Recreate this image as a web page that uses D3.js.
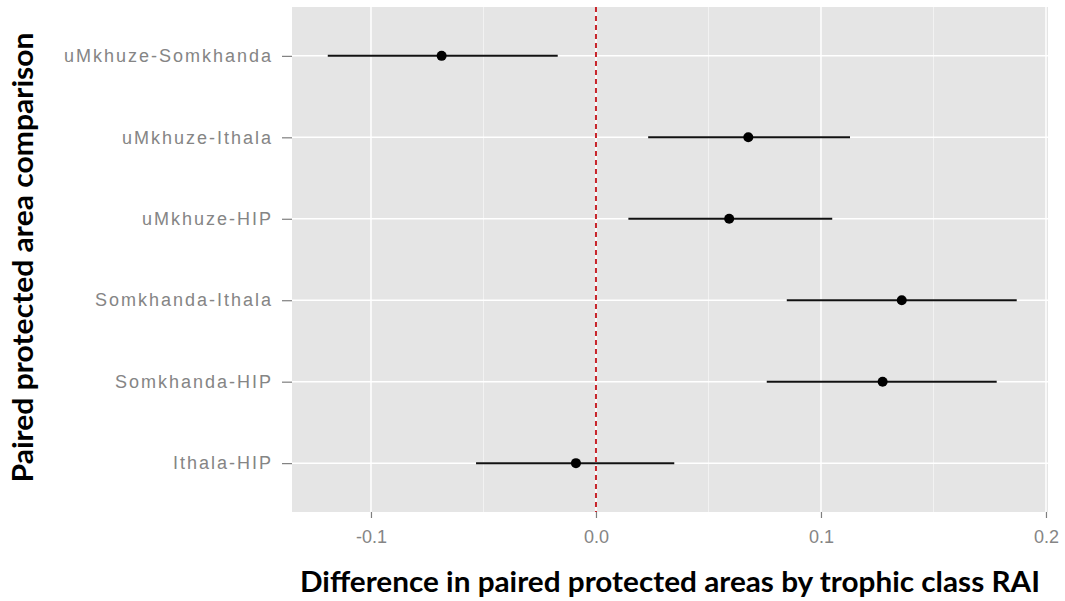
<!DOCTYPE html>
<html>
<head>
<meta charset="utf-8">
<script src="https://cdn.jsdelivr.net/npm/d3@7"></script>
<style>
  body { margin: 0; background: #fff; }
  svg { display: block; }
</style>
</head>
<body>
<div id="chart"></div>
<script>
// pairs, top to bottom
var pairs = ["uMkhuze-Somkhanda", "uMkhuze-Ithala", "uMkhuze-HIP",
             "Somkhanda-Ithala", "Somkhanda-HIP", "Ithala-HIP"]
var estimate = [-0.0686, 0.0677, 0.0592, 0.1359, 0.1274, -0.0089]
var lower    = [-0.1192, 0.0232, 0.0144, 0.0848, 0.0759, -0.0533]
var upper    = [-0.0170, 0.1129, 0.1050, 0.1870, 0.1781, 0.0348]
var xTicks = [-0.1, 0.0, 0.1, 0.2]
var xMinor = [-0.05, 0.05, 0.15]

var W = 1065, H = 601
var panel = {left: 292, right: 1048, top: 7, bottom: 512}

var svg = d3.select("#chart").append("svg").attr("width", W).attr("height", H)

var x = d3.scaleLinear().domain([-0.1351, 0.2009]).range([panel.left, panel.right])
var y = d3.scalePoint().domain(pairs).range([panel.top, panel.bottom]).padding(0.6)

var data = pairs.map(function(p, i) {
  return {pair: p, est: estimate[i], lo: lower[i], hi: upper[i]}
})

// panel background
svg.append("rect")
  .attr("x", panel.left).attr("y", panel.top)
  .attr("width", panel.right - panel.left).attr("height", panel.bottom - panel.top)
  .attr("fill", "#e5e5e5")

var grid = svg.append("g")
grid.selectAll(".minor").data(xMinor).enter().append("line")
  .attr("x1", x).attr("x2", x)
  .attr("y1", panel.top).attr("y2", panel.bottom)
  .attr("stroke", "#f2f2f2").attr("stroke-width", 1)
grid.selectAll(".majx").data(xTicks).enter().append("line")
  .attr("x1", x).attr("x2", x)
  .attr("y1", panel.top).attr("y2", panel.bottom)
  .attr("stroke", "#fff").attr("stroke-width", 1.5)
grid.selectAll(".majy").data(pairs).enter().append("line")
  .attr("x1", panel.left).attr("x2", panel.right)
  .attr("y1", y).attr("y2", y)
  .attr("stroke", "#fff").attr("stroke-width", 1.5)

// axes
var xAxis = svg.append("g")
  .attr("transform", "translate(0," + panel.bottom + ")")
  .call(d3.axisBottom(x).tickValues(xTicks)
    .tickFormat(function(d) { return d.toFixed(1) })
    .tickSize(6).tickPadding(12))
var yAxis = svg.append("g")
  .attr("transform", "translate(" + panel.left + ",0)")
  .call(d3.axisLeft(y).tickSize(10).tickPadding(9))

;[xAxis, yAxis].forEach(function(a) {
  a.select(".domain").remove()
  a.selectAll(".tick line").attr("stroke", "#7f7f7f").attr("stroke-width", 1.2)
  a.selectAll(".tick text")
    .attr("fill", "#858585")
    .style("font-family", "'Liberation Sans', Arial, sans-serif")
    .style("font-size", "18px")
})
yAxis.selectAll(".tick text").style("letter-spacing", "2px")

// reference line at zero
svg.append("line")
  .attr("x1", x(0)).attr("x2", x(0))
  .attr("y1", panel.top).attr("y2", panel.bottom)
  .attr("stroke", "#c8242b").attr("stroke-width", 2)
  .attr("stroke-dasharray", "5,4")

// intervals and points
svg.selectAll(".bar").data(data).enter().append("line")
  .attr("class", "bar")
  .attr("x1", function(d) { return x(d.lo) })
  .attr("x2", function(d) { return x(d.hi) })
  .attr("y1", function(d) { return y(d.pair) })
  .attr("y2", function(d) { return y(d.pair) })
  .attr("stroke", "#111").attr("stroke-width", 2)

svg.selectAll(".pt").data(data).enter().append("circle")
  .attr("class", "pt")
  .attr("cx", function(d) { return x(d.est) })
  .attr("cy", function(d) { return y(d.pair) })
  .attr("r", 5)
  .attr("fill", "#000")

// axis titles
var mid = (panel.left + panel.right) / 2
svg.append("text")
  .attr("x", mid).attr("y", 592)
  .attr("text-anchor", "middle")
  .attr("textLength", 740).attr("lengthAdjust", "spacingAndGlyphs")
  .style("font-family", "Lato, 'Open Sans', sans-serif")
  .style("font-weight", "bold").style("font-size", "28px")
  .text("Difference in paired protected areas by trophic class RAI")

svg.append("text")
  .attr("transform", "translate(33," + ((panel.top + panel.bottom) / 2 - 2) + ") rotate(-90)")
  .attr("text-anchor", "middle")
  .attr("textLength", 450).attr("lengthAdjust", "spacingAndGlyphs")
  .style("font-family", "Lato, 'Open Sans', sans-serif")
  .style("font-weight", "bold").style("font-size", "28px")
  .text("Paired protected area comparison")
</script>
</body>
</html>
